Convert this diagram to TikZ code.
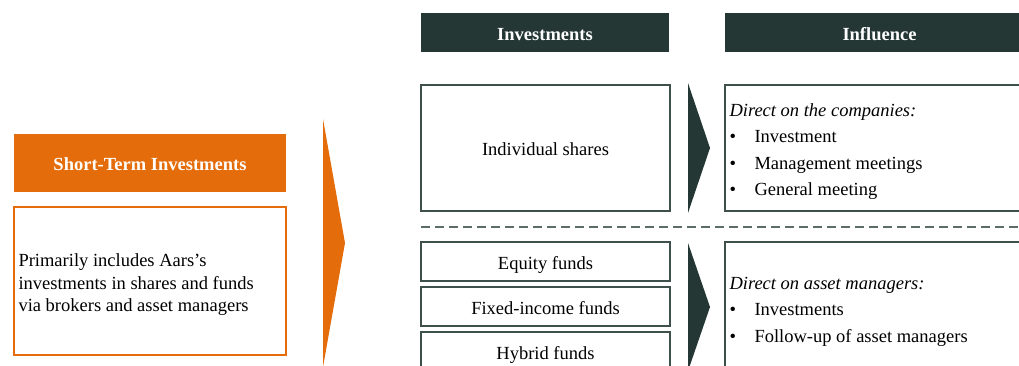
\documentclass[tikz,border=0pt]{standalone}
\usepackage{fontspec}
\setmainfont{Liberation Serif}
\usetikzlibrary{positioning}
\tikzset{every node/.append style={align=center}}
\definecolor{aarsorange}{RGB}{228,108,10}
\definecolor{headcolor}{RGB}{36,55,52}
\definecolor{framecolor}{RGB}{62,80,76}
\definecolor{sepcolor}{RGB}{92,108,105}
\newcommand{\itembullet}{\makebox[25pt][l]{\textbullet}}
\tikzset{
  textsize/.style={font=\fontsize{18.5}{22.5}\selectfont},
  headbox/.style={fill=headcolor, text=white, font=\fontsize{18.5}{22.5}\selectfont\bfseries, minimum height=39pt, inner sep=0pt, text height=16pt, text depth=0pt},
  itembox/.style={draw=framecolor, line width=1.4pt, inner sep=0pt, textsize, text height=16pt, text depth=0pt},
  listtext/.style={align=left, inner sep=0pt, font=\fontsize{18.5}{26.5}\selectfont},
}

\begin{document}
\begin{tikzpicture}[x=1pt, y=-1pt]
        \useasboundingbox (0,0) rectangle (1019,366);

        % Short-term block on the left
        \node[fill=aarsorange, text=white, font=\fontsize{18.5}{22.5}\selectfont\bfseries, minimum width=272pt, minimum height=58pt, inner sep=0pt, text height=16pt, text depth=0pt] (stihead) at (150,163) {Short-Term Investments};
        \node[draw=aarsorange, line width=1.4pt, minimum width=272pt, minimum height=148pt, inner sep=0pt] (stidesc) at (150,281) {};
        \node[listtext, textsize, right=5pt of stidesc.west, yshift=-4pt] (stitext) {Primarily includes Aars’s\\investments in shares and funds\\via brokers and asset managers};
        \fill[aarsorange] (323,119) -- (345,243) -- (323,367) -- cycle;

        % Column headers
        \node[headbox, minimum width=248pt] (invhead) at (545,32.5) {Investments};
        \node[headbox, minimum width=309pt] (infhead) at (879.5,32.5) {Influence};

        % Shares row
        \node[itembox, minimum width=249pt, minimum height=126pt] (shares) at (545.5,148) {Individual shares};
        \fill[headcolor] (688,83) -- (710,148) -- (688,213) -- cycle;
        \node[itembox, minimum width=309pt, minimum height=126pt] (infA) at (879.5,148) {};
        \node[listtext, right=5pt of infA.west, yshift=-3.5pt] (infAtext) {\textit{Direct on the companies:}\\\itembullet Investment\\\itembullet Management meetings\\\itembullet General meeting};

        % Separator
        \draw[sepcolor, line width=1.8pt, dash pattern=on 9pt off 5pt] (421,227) -- (1034,227);

        % Funds row
        \node[itembox, minimum width=249pt, minimum height=39pt] (eqfund) at (545.5,261.5) {Equity funds};
        \node[itembox, minimum width=249pt, minimum height=39pt] (fifund) at (545.5,306.5) {Fixed-income funds};
        \node[itembox, minimum width=249pt, minimum height=39pt] (hyfund) at (545.5,351.5) {Hybrid funds};
        \fill[headcolor] (688,243) -- (710,307) -- (688,371) -- cycle;
        \node[itembox, minimum width=309pt, minimum height=133pt] (infB) at (879.5,308.5) {};
        \node[listtext, right=5pt of infB.west, yshift=-3pt] (infBtext) {\textit{Direct on asset managers:}\\\itembullet Investments\\\itembullet Follow-up of asset managers};
\end{tikzpicture}
\end{document}
